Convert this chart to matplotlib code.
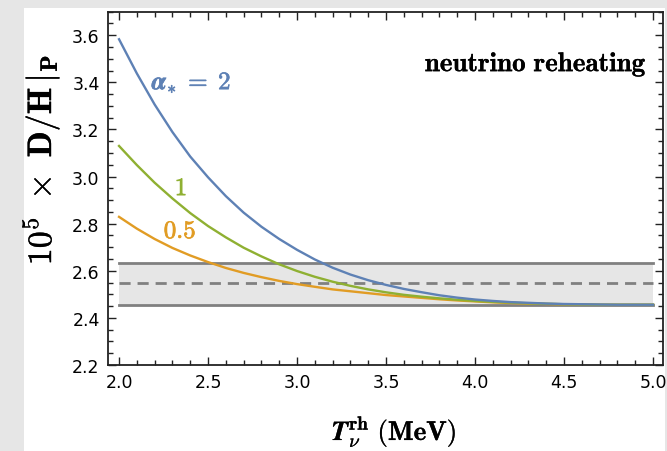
import matplotlib
matplotlib.use("Agg")
import matplotlib.pyplot as plt
import matplotlib.patheffects as pe
from matplotlib.patches import Rectangle
from matplotlib.ticker import MultipleLocator, FormatStrFormatter

plt.rcParams['mathtext.fontset'] = 'cm'
plt.rcParams['font.family'] = ['DejaVu Sans']

# Temperature grid (MeV)
T = [2.0, 2.1, 2.2, 2.3, 2.4, 2.5, 2.6, 2.7, 2.8, 2.9, 3.0, 3.1, 3.2, 3.3, 3.4, 3.5,
     3.6, 3.7, 3.8, 3.9, 4.0, 4.1, 4.2, 4.3, 4.4, 4.5, 4.6, 4.7, 4.8, 4.9, 5.0]

dh_alpha2 = [3.583, 3.438, 3.306, 3.189, 3.085, 2.997, 2.917, 2.847, 2.787, 2.735, 2.689,
             2.648, 2.613, 2.584, 2.560, 2.540, 2.523, 2.509, 2.496, 2.486, 2.478, 2.472,
             2.467, 2.464, 2.461, 2.459, 2.458, 2.457, 2.456, 2.456, 2.456]
dh_alpha1 = [3.130, 3.049, 2.974, 2.907, 2.845, 2.790, 2.742, 2.698, 2.661, 2.6275, 2.599,
             2.5745, 2.5536, 2.536, 2.521, 2.5086, 2.498, 2.490, 2.483, 2.477, 2.472, 2.468,
             2.465, 2.462, 2.460, 2.458, 2.457, 2.456, 2.456, 2.456, 2.456]
dh_alpha05 = [2.829, 2.779, 2.735, 2.697, 2.665, 2.637, 2.612, 2.591, 2.573, 2.557, 2.5435,
              2.532, 2.521, 2.513, 2.505, 2.497, 2.491, 2.485, 2.479, 2.474, 2.470, 2.466,
              2.463, 2.461, 2.459, 2.458, 2.457, 2.456, 2.456, 2.456, 2.456]

obs_band_T = [2.0, 5.0]
obs_central = 2.547
obs_low = 2.456
obs_high = 2.634

colors = ['#5E81B5', '#8FB032', '#E19C24']

fig = plt.figure(figsize=(6.67, 4.52), dpi=100, facecolor='#e6e6e6')
fig.patches.append(Rectangle((24/667, 0), (665-24)/667, (452-9)/452,
                             transform=fig.transFigure, facecolor='white',
                             edgecolor='none', zorder=-10))

ax = fig.add_axes([108/667, 86/452, (663-108)/667, (439.3-86)/452])
ax.set_facecolor('white')

ax.fill_between(obs_band_T, [obs_low]*2, [obs_high]*2, color='#e6e6e6', lw=0, zorder=1)
ax.plot(obs_band_T, [obs_low]*2, color='#808080', lw=2.0, zorder=2)
ax.plot(obs_band_T, [obs_high]*2, color='#808080', lw=2.0, zorder=2)
ax.plot(obs_band_T, [obs_central]*2, color='#808080', lw=2.0, ls=(0, (4, 2.5)), zorder=2)

for ys, c in zip([dh_alpha05, dh_alpha1, dh_alpha2], [colors[2], colors[1], colors[0]]):
    ax.plot(T, ys, color=c, lw=1.7, zorder=3)

def bold(c, w=0.7):
    return [pe.withStroke(linewidth=w, foreground=c)]

ax.text(2.184, 3.371, r'$\mathbfit{\alpha}_{\ast}\;\mathbf{=}\;\mathbf{2}$',
        color=colors[0], fontsize=18, ha='left', va='baseline', path_effects=bold(colors[0], 0.5))
ax.text(2.348, 2.921, r'$\mathbf{1}$', color=colors[1], fontsize=18, ha='center',
        va='baseline', path_effects=bold(colors[1], 0.5))
ax.text(2.343, 2.739, r'$\mathbf{0.5}$', color=colors[2], fontsize=18, ha='center',
        va='baseline', path_effects=bold(colors[2], 0.5))
ax.text(4.965, 3.447, r'$\mathbf{neutrino\ reheating}$', fontsize=19.5, ha='right',
        va='baseline', path_effects=bold('black', 0.15))

ax.set_xlim(1.938, 5.056)
ax.set_ylim(2.2, 3.7)
ax.xaxis.set_major_locator(MultipleLocator(0.5))
ax.xaxis.set_minor_locator(MultipleLocator(0.1))
ax.yaxis.set_major_locator(MultipleLocator(0.2))
ax.yaxis.set_minor_locator(MultipleLocator(0.05))
ax.xaxis.set_major_formatter(FormatStrFormatter('%.1f'))
ax.yaxis.set_major_formatter(FormatStrFormatter('%.1f'))
ax.tick_params(which='both', direction='in', top=True, right=True, labelsize=12.5,
               width=1.0, color='#222222')
ax.tick_params(which='major', length=6, pad=6)
ax.tick_params(which='minor', length=3.5)
for s in ax.spines.values():
    s.set_linewidth(1.3)
    s.set_color('#222222')

fig.text(41/667, 1 - 161/452,
         r'$\mathbf{10}^{\mathbf{5}}\ \times\ \mathbf{D/H}\,|_{\mathbf{P}}$',
         rotation=90, fontsize=24.5, ha='center', va='center', path_effects=bold('black', 0.2))
fig.text(394/667, 1 - 433/452, r'$\mathbfit{T}_{\nu}^{\mathbf{rh}}\ \mathbf{(MeV)}$',
         fontsize=19.5, ha='center', va='center', path_effects=bold('black', 0.2))

fig.savefig('out.png', dpi=100, facecolor=fig.get_facecolor())
